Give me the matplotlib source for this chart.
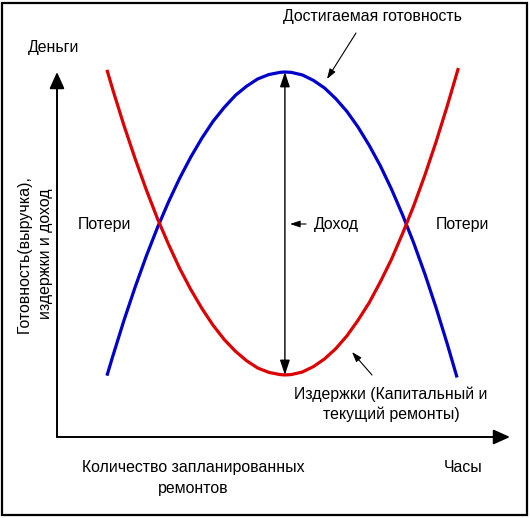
import matplotlib
matplotlib.use("Agg")
import matplotlib.pyplot as plt
from matplotlib.patches import Rectangle

plt.rcParams['font.family'] = ['Liberation Sans', 'DejaVu Sans']

# Data (abstract units: x = hours / number of repairs, y = money)
x_ready = [1.12, 1.25, 1.5, 1.75, 2.0, 2.25, 2.5, 2.75, 3.0, 3.25, 3.5, 3.75, 4.0, 4.25,
           4.5, 4.75, 5.0, 5.11, 5.25, 5.5, 5.75, 6.0, 6.25, 6.5, 6.75, 7.0, 7.25, 7.5,
           7.75, 8.0, 8.25, 8.5, 8.75, 8.97]
readiness = [1.68, 2.21, 3.19, 4.10, 4.95, 5.73, 6.44, 7.09, 7.67, 8.19, 8.65, 9.03, 9.36,
             9.61, 9.81, 9.93, 9.99, 10.0, 9.99, 9.92, 9.77, 9.56, 9.27, 8.92, 8.49, 7.99,
             7.43, 6.79, 6.08, 5.31, 4.46, 3.54, 2.55, 1.63]
x_cost = [1.12, 1.25, 1.5, 1.75, 2.0, 2.25, 2.5, 2.75, 3.0, 3.25, 3.5, 3.75, 4.0, 4.25,
          4.5, 4.75, 5.0, 5.11, 5.25, 5.5, 5.75, 6.0, 6.25, 6.5, 6.75, 7.0, 7.25, 7.5,
          7.75, 8.0, 8.25, 8.5, 8.75, 9.0]
costs = [10.06, 9.52, 8.54, 7.63, 6.78, 5.99, 5.28, 4.62, 4.04, 3.52, 3.06, 2.67, 2.35,
         2.09, 1.89, 1.77, 1.71, 1.70, 1.71, 1.78, 1.93, 2.14, 2.42, 2.77, 3.20, 3.68,
         4.25, 4.87, 5.58, 6.34, 7.18, 8.09, 9.07, 10.11]
income_x = 5.11
income_top = 10.0
income_bottom = 1.70

W, H = 530, 518
fig = plt.figure(figsize=(W / 100, H / 100), dpi=100)
ax = fig.add_axes([0, 0, 1, 1])
ax.set_axis_off()

# pixel -> data helpers (for layout of text only)
X0, Y0, SX, SY = 57, 437, 44.6, 36.5
def px(x):
    return (x - X0) / SX
def py(y):
    return (Y0 - y) / SY

ax.set_xlim(px(0), px(W))
ax.set_ylim(py(H), py(0))

# frame
fig.patches.append(Rectangle((2 / W, 3 / H), 525 / W, 512 / H, transform=fig.transFigure,
                             fill=False, edgecolor='black', linewidth=1.6))

# axes arrows
ap = dict(arrowstyle='-|>,head_length=1.0,head_width=0.45', color='black', lw=1.4,
          shrinkA=0, shrinkB=0)
ax.annotate('', xy=(0, py(72)), xytext=(0, 0), arrowprops=ap)
ax.annotate('', xy=(px(510), 0), xytext=(0, 0), arrowprops=ap)

# curves
ax.plot(x_ready, readiness, color='#0000cc', lw=2.3, solid_capstyle='butt',
        solid_joinstyle='round')
ax.plot(x_cost, costs, color='#dd0000', lw=2.3, solid_capstyle='butt',
        solid_joinstyle='round')

# income double arrow
ap2 = dict(arrowstyle='<|-|>,head_length=0.9,head_width=0.3', color='black', lw=1.0,
           shrinkA=0, shrinkB=0)
ax.annotate('', xy=(income_x, income_top), xytext=(income_x, income_bottom), arrowprops=ap2)

# pointer arrows
ap3 = dict(arrowstyle='-|>,head_length=0.6,head_width=0.2', color='black', lw=0.8,
           shrinkA=0, shrinkB=0)
ax.annotate('', xy=(px(327), py(79)), xytext=(px(356), py(33)), arrowprops=ap3)
ax.annotate('', xy=(px(352), py(352)), xytext=(px(372), py(375)), arrowprops=ap3)
ax.annotate('', xy=(px(290), py(224)), xytext=(px(306), py(224)), arrowprops=ap3)

fs = 11.4
ax.text(px(372), py(17), 'Достигаемая готовность', fontsize=fs, ha='center', va='center')
ax.text(px(54), py(48), 'Деньги', fontsize=fs, ha='center', va='center')
ax.text(px(104), py(224), 'Потери', fontsize=fs, ha='center', va='center')
ax.text(px(462), py(224), 'Потери', fontsize=fs, ha='center', va='center')
ax.text(px(314), py(224), 'Доход', fontsize=fs, ha='left', va='center')
ax.text(px(391), py(404), 'Издержки (Капитальный и\nтекущий ремонты)', fontsize=fs,
        ha='center', va='center', linespacing=1.4)
ax.text(px(193), py(478), 'Количество запланированных\nремонтов', fontsize=fs,
        ha='center', va='center', linespacing=1.5)
ax.text(px(463), py(467), 'Часы', fontsize=fs, ha='center', va='center')
ax.text(px(35), py(254), 'Готовность(выручка),\nиздержки и доход', fontsize=fs,
        ha='center', va='center', rotation=90, linespacing=1.55)

fig.savefig('out.png', dpi=100)
